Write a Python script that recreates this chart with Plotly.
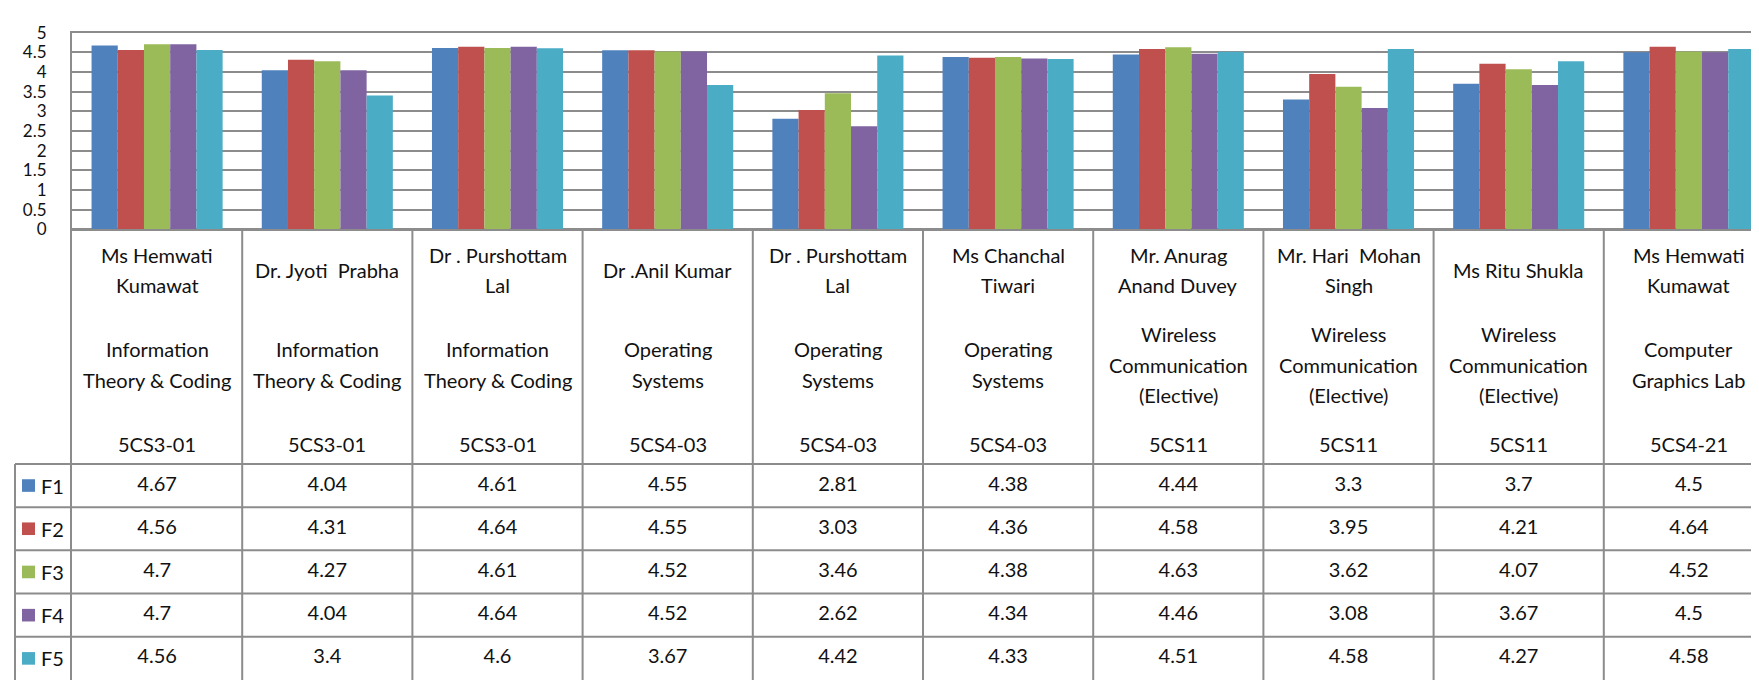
import plotly.graph_objects as go

# ---------------- data ----------------
teachers = ["Ms Hemwati\nKumawat", "Dr. Jyoti  Prabha", "Dr . Purshottam\nLal", "Dr .Anil Kumar",
            "Dr . Purshottam\nLal", "Ms Chanchal\nTiwari", "Mr. Anurag\nAnand Duvey",
            "Mr. Hari  Mohan\nSingh", "Ms Ritu Shukla", "Ms Hemwati\nKumawat"]
subjects = ["Information\nTheory & Coding", "Information\nTheory & Coding", "Information\nTheory & Coding",
            "Operating\nSystems", "Operating\nSystems", "Operating\nSystems",
            "Wireless\nCommunication\n(Elective)", "Wireless\nCommunication\n(Elective)",
            "Wireless\nCommunication\n(Elective)", "Computer\nGraphics Lab"]
codes = ["5CS3-01", "5CS3-01", "5CS3-01", "5CS4-03", "5CS4-03", "5CS4-03",
         "5CS11", "5CS11", "5CS11", "5CS4-21"]

series_names = ["F1", "F2", "F3", "F4", "F5"]
F1 = [4.67, 4.04, 4.61, 4.55, 2.81, 4.38, 4.44, 3.3, 3.7, 4.5]
F2 = [4.56, 4.31, 4.64, 4.55, 3.03, 4.36, 4.58, 3.95, 4.21, 4.64]
F3 = [4.7, 4.27, 4.61, 4.52, 3.46, 4.38, 4.63, 3.62, 4.07, 4.52]
F4 = [4.7, 4.04, 4.64, 4.52, 2.62, 4.34, 4.46, 3.08, 3.67, 4.5]
F5 = [4.56, 3.4, 4.6, 3.67, 4.42, 4.33, 4.51, 4.58, 4.27, 4.58]
series_values = [F1, F2, F3, F4, F5]
colors = ["#4F81BD", "#C0504D", "#9BBB59", "#8064A2", "#4BACC6"]
y_ticks = [0, 0.5, 1, 1.5, 2, 2.5, 3, 3.5, 4, 4.5, 5]

# ---------------- layout constants ----------------
W, H = 1759, 682
plot_left = 64
plot_top = 14
zero_px = 217
cat_w = 170.2
legend_left = 7
row_h = 44.58
header_rows = (459 - zero_px) / row_h          # header height in row units
line_h = 31.5 / row_h                            # header line spacing in row units
FONT = "Lato"
TXT = "#111111"
GRID = "#8c8c8c"

idx = list(range(len(codes)))
x_range = [-0.5, -0.5 + (W - plot_left) / cat_w]
y2_bottom = 5.0
y2_top = -header_rows

fig = go.Figure()
for name, vals, col in zip(series_names, series_values, colors):
    fig.add_trace(go.Bar(x=idx, y=vals, name=name, marker=dict(color=col, line=dict(width=0)),
                         showlegend=False, hoverinfo="skip"))

# table values as text on second axis
for r, (name, vals) in enumerate(zip(series_names, series_values)):
    fig.add_trace(go.Scatter(x=idx, y=[r + 0.5] * len(vals), yaxis="y2", mode="text",
                             text=[f"{v:g}" for v in vals], textposition="middle center",
                             textfont=dict(family=FONT, size=20, color=TXT),
                             cliponaxis=False, showlegend=False, hoverinfo="skip"))

shapes = []
annotations = []
# horizontal table lines
for r in range(len(series_names)):
    shapes.append(dict(type="line", xref="paper", yref="y2", x0=legend_left / W, x1=1,
                       y0=r, y1=r, line=dict(color=GRID, width=2), layer="above"))
# vertical lines between categories
for k in range(1, len(idx)):
    shapes.append(dict(type="line", xref="x", yref="y2", x0=k - 0.5, x1=k - 0.5,
                       y0=y2_top, y1=y2_bottom, line=dict(color=GRID, width=2)))
# legend column left edge
shapes.append(dict(type="line", xref="paper", yref="y2", x0=legend_left / W, x1=legend_left / W,
                   y0=0, y1=y2_bottom, line=dict(color=GRID, width=2)))

# legend keys
for r, (name, col) in enumerate(zip(series_names, colors)):
    shapes.append(dict(type="rect", xref="paper", yref="y2", x0=14 / W, x1=27 / W,
                       y0=r + 0.5 - 6.5 / row_h, y1=r + 0.5 + 6.5 / row_h,
                       fillcolor=col, line=dict(width=0)))
    annotations.append(dict(xref="paper", yref="y2", x=31 / W, y=r + 0.5, text=name,
                            showarrow=False, xanchor="left", yanchor="middle",
                            font=dict(family=FONT, size=20, color=TXT)))

# header text blocks
name_c = y2_top + (259 - zero_px) / row_h
subj_c = y2_top + (356.5 - zero_px) / row_h
code_c = y2_top + (438 - zero_px) / row_h


def add_block(i, text, center):
    lines = text.split("\n")
    n = len(lines)
    for j, ln in enumerate(lines):
        annotations.append(dict(xref="x", yref="y2", x=i, y=center + (j - (n - 1) / 2) * line_h,
                                text=ln, showarrow=False, xanchor="center", yanchor="middle",
                                font=dict(family=FONT, size=20, color=TXT)))


for i in idx:
    add_block(i, teachers[i], name_c)
    add_block(i, subjects[i], subj_c)
    add_block(i, codes[i], code_c)

fig.update_layout(
    width=W, height=H,
    margin=dict(l=0, r=0, t=0, b=0),
    paper_bgcolor="white", plot_bgcolor="white",
    barmode="group", bargap=0.23, bargroupgap=0,
    xaxis=dict(domain=[plot_left / W, 1], range=x_range, showticklabels=False, showgrid=False,
               zeroline=False, showline=True, mirror=True, linecolor=GRID, linewidth=2, ticks=""),
    yaxis=dict(domain=[1 - zero_px / H, 1 - plot_top / H], range=[0, 5], tickvals=y_ticks,
               showgrid=True, gridcolor=GRID, gridwidth=2, zeroline=True, zerolinecolor=GRID,
               zerolinewidth=2, showline=True, linecolor=GRID, linewidth=2, ticks="",
               ticklabelstandoff=20, tickfont=dict(family=FONT, size=17, color=TXT)),
    yaxis2=dict(domain=[0, 1 - zero_px / H], range=[y2_bottom, y2_top], showgrid=False,
                zeroline=False, showticklabels=False, showline=True, linecolor=GRID, linewidth=2,
                ticks="", anchor="x"),
    shapes=shapes,
    annotations=annotations,
)

fig.write_html("out.html")
